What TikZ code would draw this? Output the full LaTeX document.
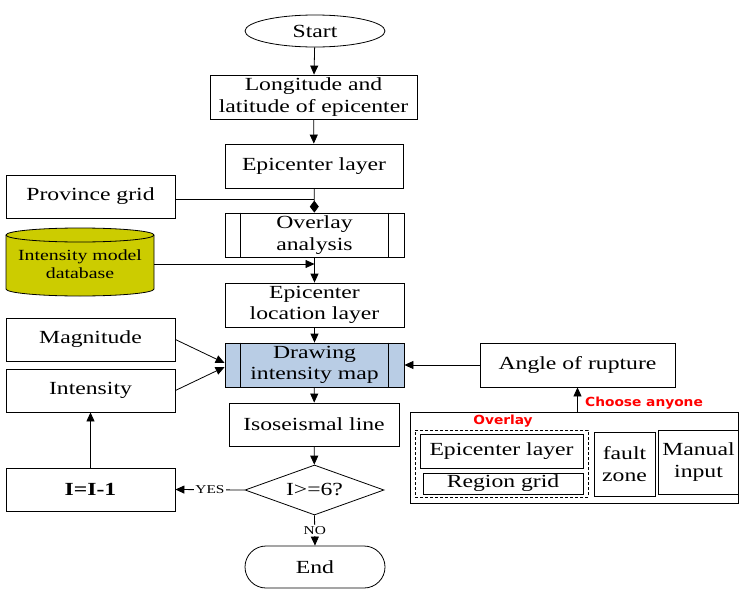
\documentclass[tikz,border=0pt]{standalone}
\usepackage{fontspec}
\setmainfont{Liberation Serif}[FakeStretch=1.28]
\newfontfamily\labelfont{DejaVu Sans}[FakeStretch=1.1]
\usetikzlibrary{shapes.geometric,arrows.meta}
\definecolor{dbyellow}{HTML}{CCCC00}
\definecolor{mapblue}{HTML}{B9CDE5}
\definecolor{notered}{HTML}{FF0000}

\begin{document}
\begin{tikzpicture}[x=1pt,y=-1pt,line width=0.8pt,
	>={Triangle[width=8pt,length=9pt]},
	txt/.style={font=\fontsize{18.5}{21.5}\selectfont},
	box/.style={draw,rectangle,inner sep=0pt,align=center,txt},
	proc/.style={box,minimum width=179pt,minimum height=44pt},
	side/.style={box,minimum width=169pt,minimum height=43pt},
	note/.style={text=notered,inner sep=0pt,font=\labelfont\bfseries\fontsize{12.5}{14}\selectfont},
	small/.style={inner sep=1pt,fill=white,font=\fontsize{12}{14}\selectfont}]
			\useasboundingbox (0,0) rectangle (739,589);
			
			% Main column
			\node[draw,ellipse,minimum width=140pt,minimum height=32pt,inner sep=0pt,txt] (start) at (315,31) {Start};
			\node[box,minimum width=207pt,minimum height=44pt] (lonlat) at (313.5,97) {Longitude and\\latitude of epicenter};
			\node[box,minimum width=178pt,minimum height=44pt] (epi) at (314,166) {Epicenter layer};
			\node[proc] (ovl) at (314.5,235) {Overlay\\analysis};
			\node[proc] (loc) at (314.5,305) {Epicenter\\location layer};
			\node[proc,fill=mapblue] (map) at (314.5,365) {Drawing\\intensity map};
			\node[box,minimum width=170pt,minimum height=43pt] (iso) at (314,424.5) {Isoseismal line};
			\node[draw,diamond,aspect=2.78,minimum width=139pt,minimum height=50pt,inner sep=0pt,txt] (check) at (314.5,490) {I>=6?};
			\node[draw,rounded corners=21pt,minimum width=140pt,minimum height=42pt,inner sep=0pt,txt] (end) at (315,567) {End};
			
			% Inner lines of the process boxes
			\foreach \n in {ovl,map} {
				\draw ([xshift=16pt]\n.north west) -- ([xshift=16pt]\n.south west);
				\draw ([xshift=-16pt]\n.north east) -- ([xshift=-16pt]\n.south east);
			}
			
			% Left inputs
			\node[side] (prov) at (90.5,196.5) {Province grid};
			\filldraw[fill=dbyellow] (6,235) -- (6,289) arc[start angle=180,end angle=360,x radius=74pt,y radius=7pt]
				-- (154,235) arc[start angle=0,end angle=180,x radius=74pt,y radius=7pt] -- cycle;
			\draw (6,235) arc[start angle=180,end angle=360,x radius=74pt,y radius=7pt];
			\node[minimum width=148pt,inner sep=0pt,align=center,font=\fontsize{15.5}{18}\selectfont] (db) at (80,264) {Intensity model\\database};
			\node[side] (mag) at (90.5,339.5) {Magnitude};
			\node[side] (int) at (90.5,390.5) {Intensity};
			\node[side,font=\fontsize{18.5}{21.5}\selectfont\bfseries] (dec) at (90.5,489.5) {I=I-1};
			
			% Right side
			\node[box,minimum width=195pt,minimum height=44pt] (angle) at (577.5,365) {Angle of rupture};
			\node[draw,minimum width=328pt,minimum height=91pt,inner sep=0pt] (choice) at (574,457.5) {};
			\node[draw,dashed,dash pattern=on 3pt off 2pt,minimum width=173pt,minimum height=67pt,inner sep=0pt] (ovlgrp) at (501.5,463.5) {};
			\node[box,minimum width=163pt,minimum height=34pt] (epismall) at (501.5,451) {Epicenter layer};
			\node[box,minimum width=160pt,minimum height=21pt] (region) at (503,483.5) {Region grid};
			\node[box,minimum width=61pt,minimum height=64pt] (fault) at (624.5,464) {fault\\zone};
			\node[box,minimum width=80pt,minimum height=64pt] (manual) at (698.5,462) {Manual\\input};
			\node[note] (choose) at (644,403) {Choose anyone};
			\node[note] (ovllbl) at (503,421) {Overlay};
			
			% Connectors
			\draw[->] (start) -- (lonlat);
			\draw[->] (lonlat) -- (epi);
			\draw[-{Diamond[width=9pt,length=12pt]}] (epi) -- (ovl);
			\draw ([yshift=-3pt]prov.east) -- ([yshift=-3pt]prov.east -| epi.south);
			\draw[->] (db.east) -- (db.east -| ovl.south);
			\draw[->] (ovl) -- (loc);
			\draw[->] (loc) -- (map);
			\draw[->] (mag.east) -- ([yshift=2pt]map.west);
			\draw[->] (int.east) -- ([yshift=-2pt]map.west);
			\draw[->] (angle) -- (map);
			\draw[->] (choice.north -| angle.south) -- (angle.south);
			\draw[->] (map) -- (iso);
			\draw[->] (iso) -- (check);
			\draw[->] (check.west) -- node[small] {YES} (dec.east);
			\draw[->] (check.south) -- node[small] {NO} (end.north);
			\draw[->] (dec) -- (int);
		\end{tikzpicture}
\end{document}
